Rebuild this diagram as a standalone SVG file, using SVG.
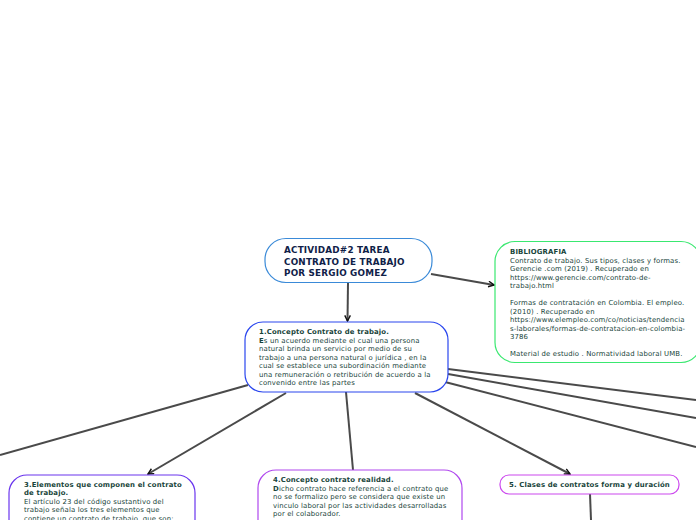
<svg xmlns="http://www.w3.org/2000/svg" width="696" height="520" viewBox="0 0 696 520">
<defs>
<marker id="arr" viewBox="0 0 10 10" refX="9" refY="5" markerWidth="7" markerHeight="7" markerUnits="userSpaceOnUse" orient="auto">
<path d="M1,1 L9,5 L1,9" fill="none" stroke="#111" stroke-width="2"/>
</marker>
<style>
.t{font-family:"DejaVu Sans",Verdana,sans-serif;font-size:6.9px;letter-spacing:0.15px;fill:#17443a}
.b{font-weight:bold}
.h{font-family:"DejaVu Sans",Verdana,sans-serif;font-size:8.8px;letter-spacing:0.2px;font-weight:bold;fill:#0f2148}
.c{fill:none;stroke:#4a4a4a;stroke-width:2}
.n{fill:#fff;stroke-width:1.2}
</style>
</defs>
<rect width="696" height="520" fill="#fff"/>
<g id="connectors">
<path class="c" d="M348,283 L347.5,321" marker-end="url(#arr)"/>
<path class="c" d="M431,274 L494,285" marker-end="url(#arr)"/>
<path class="c" d="M248,385 L0,455"/>
<path class="c" d="M286,393 L148,474" marker-end="url(#arr)"/>
<path class="c" d="M346,392 L353,470"/>
<path class="c" d="M415,393 L570,474" marker-end="url(#arr)"/>
<path class="c" d="M448,369 L696,400"/>
<path class="c" d="M448,374 L696,418"/>
<path class="c" d="M445,382 L696,447"/>
<path class="c" d="M590,494 L591,520"/>
</g>
<g id="root">
<rect class="n" x="265" y="238.5" width="167" height="44" rx="21" stroke="#3a8ad8"/>
<text class="h" x="284" y="253">ACTIVIDAD#2 TAREA</text>
<text class="h" x="284" y="264.5">CONTRATO DE TRABAJO</text>
<text class="h" x="284" y="276">POR SERGIO GOMEZ</text>
</g>
<g id="bibliografia">
<rect class="n" x="495" y="241.5" width="206" height="121" rx="20" stroke="#3ae870"/>
<text class="t" x="510" y="254"><tspan class="b">BIBLIOGRAFIA</tspan>
<tspan x="510" dy="8.5">Contrato de trabajo. Sus tipos, clases y formas.</tspan>
<tspan x="510" dy="8.5">Gerencie .com (2019) . Recuperado en</tspan>
<tspan x="510" dy="8.5">https://www.gerencie.com/contrato-de-</tspan>
<tspan x="510" dy="8.5">trabajo.html</tspan>
<tspan x="510" dy="17">Formas de contratación en Colombia. El empleo.</tspan>
<tspan x="510" dy="8.5">(2010) . Recuperado en</tspan>
<tspan x="510" dy="8.5">https://www.elempleo.com/co/noticias/tendencia</tspan>
<tspan x="510" dy="8.5">s-laborales/formas-de-contratacion-en-colombia-</tspan>
<tspan x="510" dy="8.5">3786</tspan>
<tspan x="510" dy="17">Material de estudio . Normatividad laboral UMB.</tspan></text>
</g>
<g id="concepto">
<rect class="n" x="245" y="322" width="203" height="70" rx="18" stroke="#2a46ee"/>
<text class="t" x="259" y="334"><tspan class="b">1.Concepto Contrato de trabajo.</tspan>
<tspan x="259" dy="8.5"><tspan class="b">E</tspan>s un acuerdo mediante el cual una persona</tspan>
<tspan x="259" dy="8.5">natural brinda un servicio por medio de su</tspan>
<tspan x="259" dy="8.5">trabajo a una persona natural o jurídica , en la</tspan>
<tspan x="259" dy="8.5">cual se establece una subordinación mediante</tspan>
<tspan x="259" dy="8.5">una remuneración o retribución de acuerdo a la</tspan>
<tspan x="259" dy="8.5">convenido entre las partes</tspan></text>
</g>
<g id="elementos">
<rect class="n" x="9" y="475" width="186" height="70" rx="18" stroke="#6a35ee"/>
<text class="t" x="24" y="487"><tspan class="b">3.Elementos que componen el contrato</tspan>
<tspan x="24" dy="8.3" class="b">de trabajo.</tspan>
<tspan x="24" dy="8.5">El artículo 23 del código sustantivo del</tspan>
<tspan x="24" dy="8.5">trabajo señala los tres elementos que</tspan>
<tspan x="24" dy="8.5">contiene un contrato de trabajo, que son:</tspan></text>
</g>
<g id="realidad">
<rect class="n" x="258" y="470" width="204" height="70" rx="18" stroke="#b048ee"/>
<text class="t" x="273" y="482"><tspan class="b">4.Concepto contrato realidad.</tspan>
<tspan x="273" dy="8.5"><tspan class="b">D</tspan>icho contrato hace referencia a el contrato que</tspan>
<tspan x="273" dy="8.5">no se formalizo pero se considera que existe un</tspan>
<tspan x="273" dy="8.5">vinculo laboral por las actividades desarrolladas</tspan>
<tspan x="273" dy="8.5">por el colaborador.</tspan></text>
</g>
<g id="clases">
<rect class="n" x="500" y="475" width="179" height="19" rx="9" stroke="#cc48ee"/>
<text class="t b" x="589.5" y="487" text-anchor="middle">5. Clases de contratos forma y duración</text>
</g>
</svg>
